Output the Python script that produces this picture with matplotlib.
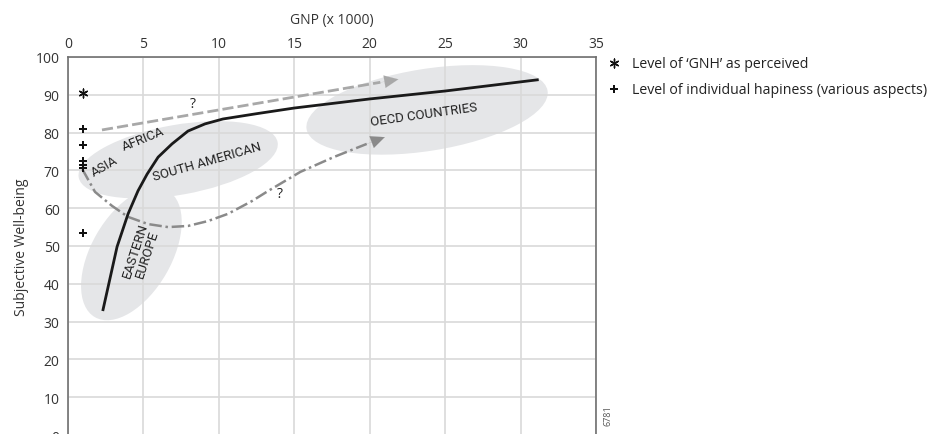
import matplotlib
matplotlib.use("Agg")
import matplotlib.pyplot as plt
from matplotlib.patches import Ellipse
from matplotlib.transforms import ScaledTranslation

plt.rcParams['font.family'] = ['Open Sans', 'DejaVu Sans']

# Daten
gnp_main = [2.3, 3.25, 3.98, 4.64, 5.24, 5.97, 6.89, 7.95, 9.08, 10.27, 12.5, 15.0,
            20.0, 25.0, 31.2]
swb_main = [32.8, 49.8, 58.5, 64.6, 69.0, 73.5, 77.0, 80.4, 82.3, 83.6, 85.0, 86.5,
            88.9, 91.0, 94.0]

gnp_dash = [2.25, 21.9]
swb_dash = [80.7, 94.1]

gnp_dashdot = [0.95, 1.79, 2.92, 3.98, 5.3, 6.63, 7.95, 9.28, 10.6, 12.2, 13.2, 15.4,
               17.6, 19.8, 21.0]
swb_dashdot = [70.3, 64.3, 60.6, 57.7, 55.8, 55.0, 55.3, 56.6, 58.5, 61.9, 64.4, 69.6,
               73.5, 77.0, 78.8]

gnh_x = [1.0]
gnh_y = [90.5]
indiv_x = [1.0, 1.0, 1.0, 1.0, 1.0, 1.0]
indiv_y = [81.0, 76.8, 72.6, 71.5, 70.6, 53.4]

# Regionen: Mitte (GNP, SWB), Breite/Hoehe in Pixel, Winkel
regions = [
    ((7.3, 72.8), 202, 70, 10),
    ((4.2, 47.9), 146, 80, 60),
    ((23.8, 86.0), 244, 82, 9),
]
region_labels = [
    ('ASIA', 2.4, 71.3, 30),
    ('AFRICA', 5.0, 78.5, 22),
    ('SOUTH AMERICAN', 9.2, 72.5, 16),
    ('EASTERN\nEUROPE', 4.85, 48.5, 72),
    ('OECD COUNTRIES', 23.6, 84.8, 8),
]

fig = plt.figure(figsize=(9.32, 4.35), dpi=100)
ax = fig.add_axes([0.073, -0.0023, 0.5665, 0.869])

ax.set_xlim(0, 35)
ax.set_ylim(0, 100)
ax.set_xticks(range(0, 36, 5))
ax.set_yticks(range(0, 101, 10))
ax.xaxis.tick_top()
ax.xaxis.set_label_position('top')
ax.tick_params(length=0, labelsize=10, labelcolor='#333333')
ax.tick_params(axis='x', pad=4)
ax.tick_params(axis='y', pad=6)
ax.set_xlabel('GNP (x 1000)', fontsize=10, color='#333333', labelpad=10)
ax.set_ylabel('Subjective Well-being', fontsize=10, color='#333333', labelpad=5)

ax.grid(True, color='#d9d9d9', lw=1.2)
ax.set_axisbelow(True)
for side in ['left', 'top', 'right']:
    ax.spines[side].set_color('#707070')
    ax.spines[side].set_linewidth(1.2)
ax.spines['bottom'].set_visible(False)

for (cx, cy), w, h, ang in regions:
    tr = fig.dpi_scale_trans + ScaledTranslation(cx, cy, ax.transData)
    e = Ellipse((0, 0), w / 100, h / 100, angle=ang, transform=tr,
                facecolor='#e5e6e8', edgecolor='none', zorder=0.2)
    ax.add_patch(e)

for txt, x, y, rot in region_labels:
    ax.text(x, y, txt, rotation=rot, ha='center', va='center', fontsize=9.5,
            family='Roboto', color='#222222', linespacing=1.0,
            rotation_mode='anchor')

# Linien
ax.plot(gnp_main, swb_main, color='#1a1a1a', lw=2.0, zorder=3,
        solid_capstyle='butt', solid_joinstyle='round')
ax.plot(gnp_dash[:-1] + [gnp_dash[-1] - 1.2], swb_dash[:-1] + [swb_dash[-1] - 0.8],
        color='#a8a8a8', lw=2.0, ls=(0, (4, 1.5)), zorder=2)
ax.annotate('', xy=(gnp_dash[-1], swb_dash[-1]),
            xytext=(gnp_dash[-1] - 1.6, swb_dash[-1] - 1.1),
            arrowprops=dict(arrowstyle='-|>,head_length=1.0,head_width=0.45',
                            color='#a8a8a8', lw=0.1, shrinkA=0, shrinkB=0))
ax.plot(gnp_dashdot[:-1], swb_dashdot[:-1], color='#8a8a8a', lw=1.8,
        ls=(0, (5, 1.5, 1, 1.5)), zorder=2)
ax.annotate('', xy=(gnp_dashdot[-1], swb_dashdot[-1]),
            xytext=(gnp_dashdot[-2], swb_dashdot[-2]),
            arrowprops=dict(arrowstyle='-|>,head_length=1.0,head_width=0.45',
                            color='#8a8a8a', lw=0.1, shrinkA=0, shrinkB=0))

ax.text(8.25, 87.7, '?', fontsize=10, color='#222222', ha='center', va='center')
ax.text(14.05, 63.8, '?', fontsize=10, color='#222222', ha='center', va='center')

gnh = ax.scatter(gnh_x, gnh_y, marker=(6, 2, 0), s=40, color='#111111',
                 linewidths=1.0, zorder=4, clip_on=False,
                 label="Level of \u2018GNH\u2019 as perceived")
indiv = ax.scatter(indiv_x, indiv_y, marker='P', s=32, color='#111111',
                   linewidths=0, zorder=4, clip_on=False,
                   label='Level of individual hapiness (various aspects)')

fig.legend(handles=[gnh, indiv], loc='upper left', bbox_to_anchor=(0.645, 0.883),
           frameon=False, fontsize=10.2, handletextpad=0.75, labelspacing=0.8,
           handlelength=1.0, borderaxespad=0, labelcolor='#222222')

fig.text(0.652, 0.02, '6781', rotation=90, fontsize=6.5, color='#555555',
         ha='center', va='bottom')

fig.savefig('out.png', dpi=100)
